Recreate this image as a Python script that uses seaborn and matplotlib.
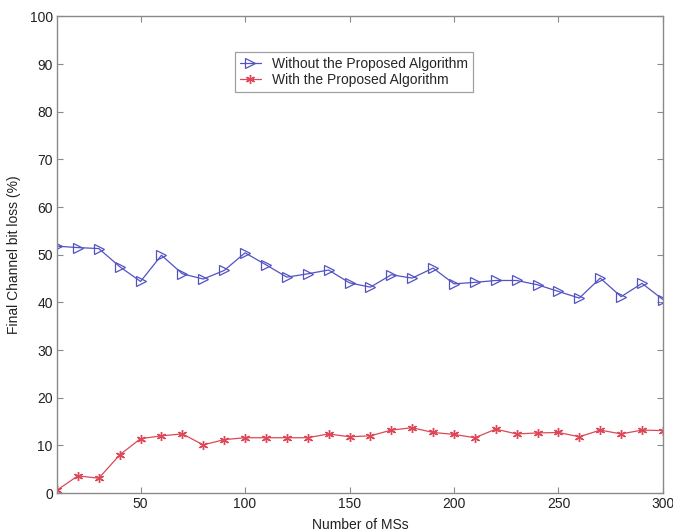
import matplotlib
matplotlib.use("Agg")
import matplotlib.pyplot as plt
import seaborn as sns
import pandas as pd

# Number of mobile stations
num_ms = [10, 20, 30, 40, 50, 60, 70, 80, 90, 100,
          110, 120, 130, 140, 150, 160, 170, 180, 190, 200,
          210, 220, 230, 240, 250, 260, 270, 280, 290, 300]

# Final channel bit loss (%)
loss_without = [51.8, 51.5, 51.3, 47.5, 44.4, 49.9, 46.0, 44.9, 46.7, 50.4,
                47.9, 45.3, 46.0, 46.8, 44.1, 43.2, 45.8, 45.1, 47.2, 43.9,
                44.2, 44.6, 44.6, 43.7, 42.3, 40.9, 45.1, 41.2, 44.0, 40.6]
loss_with = [0.6, 3.6, 3.1, 8.0, 11.4, 12.0, 12.4, 10.1, 11.2, 11.6,
             11.6, 11.6, 11.6, 12.4, 11.8, 12.0, 13.2, 13.7, 12.7, 12.3,
             11.6, 13.4, 12.4, 12.6, 12.7, 11.8, 13.2, 12.4, 13.2, 13.1]

labels = ["Without the Proposed Algorithm", "With the Proposed Algorithm"]

df = pd.DataFrame({
    "ms": num_ms * 2,
    "loss": loss_without + loss_with,
    "series": [labels[0]] * len(num_ms) + [labels[1]] * len(num_ms),
})

sns.set_style("white")
plt.rcParams["font.family"] = ["Liberation Sans", "DejaVu Sans"]

fig = plt.figure(figsize=(6.73, 5.32), dpi=100)
ax = fig.add_axes([0.0847, 0.0733, 0.9003, 0.8957])

blue = "#5252c4"
red = "#dc4858"

sns.lineplot(data=df[df.series == labels[0]], x="ms", y="loss", ax=ax,
             color=blue, linewidth=0.9, marker=">", markersize=7,
             markerfacecolor="none", markeredgecolor=blue, markeredgewidth=0.9,
             label=labels[0])
sns.lineplot(data=df[df.series == labels[1]], x="ms", y="loss", ax=ax,
             color=red, linewidth=0.9, marker=(6, 2, 0), markersize=6.5,
             markeredgecolor=red, markeredgewidth=1.0,
             label=labels[1])

ax.set_xlim(10, 300)
ax.set_ylim(0, 100)
ax.set_xticks([50, 100, 150, 200, 250, 300])
ax.set_yticks(range(0, 101, 10))

for side in ["left", "right", "top", "bottom"]:
    ax.spines[side].set_visible(True)
    ax.spines[side].set_color("#8a8a8a")
    ax.spines[side].set_linewidth(1.0)

ax.tick_params(direction="in", length=4, width=0.8, color="#8a8a8a",
               labelsize=10, labelcolor="#222222",
               top=True, right=True, bottom=True, left=True, pad=3)

ax.set_xlabel("Number of MSs", fontsize=10, color="#222222", labelpad=5)
ax.set_ylabel("Final Channel bit loss (%)", fontsize=10, color="#222222", labelpad=6)

leg = ax.legend(loc="upper left", bbox_to_anchor=(0.294, 0.9255), fontsize=10,
                frameon=True, fancybox=False, borderpad=0.35, labelspacing=0.15,
                handlelength=1.5, handletextpad=0.8, borderaxespad=0)
leg.get_frame().set_edgecolor("#8a8a8a")
leg.get_frame().set_linewidth(0.9)

fig.savefig("out.png", dpi=100)
